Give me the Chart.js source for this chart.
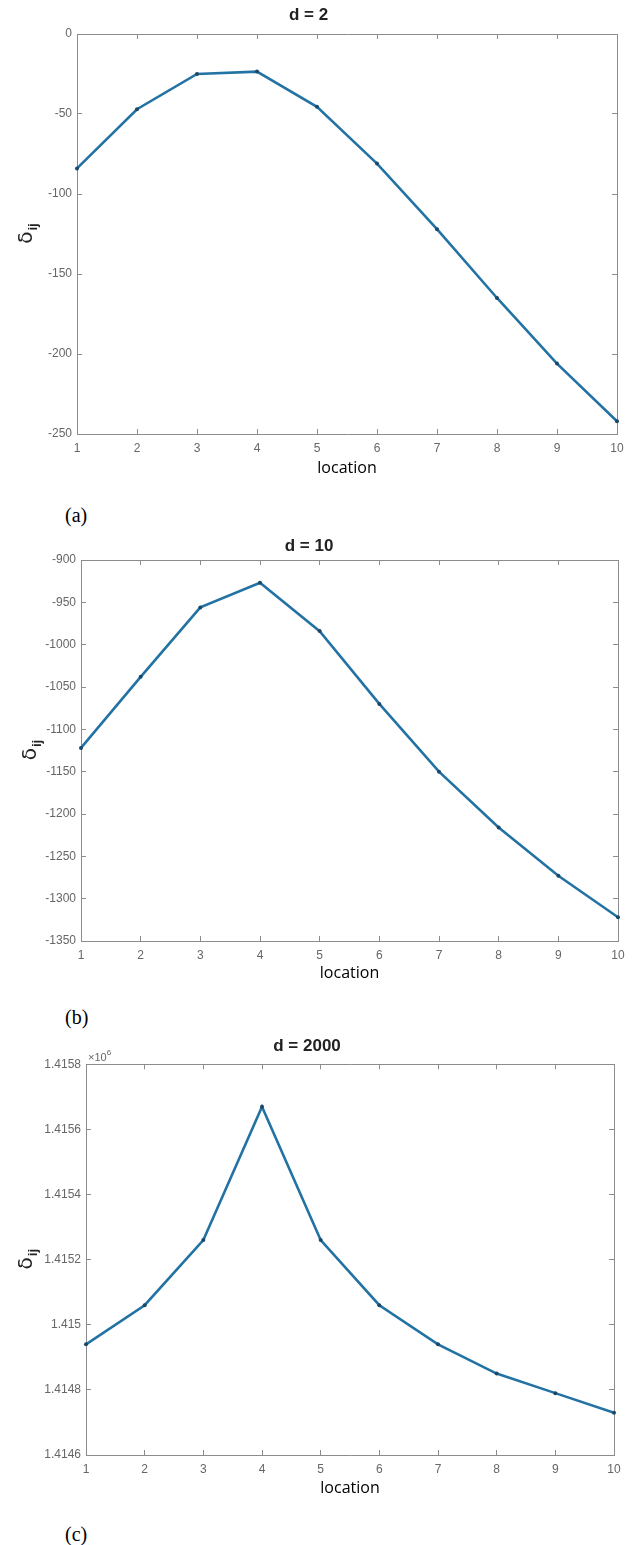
<!DOCTYPE html>
<html>
<head>
<meta charset="utf-8">
<script src="https://cdn.jsdelivr.net/npm/chart.js@4"></script>
<style>
  body { margin: 0; background: #fff; width: 639px; height: 1545px; position: relative; overflow: hidden; }
  .panel { position: absolute; left: 0; width: 639px; }
  .cap { position: absolute; left: 65px; font: 20px "Liberation Serif", serif; color: #000; line-height: 20px; }
</style>
</head>
<body>
<div class="panel" style="top:0px;height:500px"><canvas id="ca" width="639" height="500"></canvas></div>
<div class="cap" style="top:505px">(a)</div>
<div class="panel" style="top:530px;height:470px"><canvas id="cb" width="639" height="470"></canvas></div>
<div class="cap" style="top:1007px">(b)</div>
<div class="panel" style="top:1030px;height:480px"><canvas id="cc" width="639" height="480"></canvas></div>
<div class="cap" style="top:1524px">(c)</div>
<script>
const locations = [1, 2, 3, 4, 5, 6, 7, 8, 9, 10];

// d = 2
const deltaD2 = [-84, -47, -25, -23.5, -45.5, -81, -122, -165, -206, -242];
const yTicksD2 = [-250, -200, -150, -100, -50, 0];

// d = 10
const deltaD10 = [-1122, -1038, -956, -927, -984, -1070, -1150, -1216, -1273, -1322];
const yTicksD10 = [-1350, -1300, -1250, -1200, -1150, -1100, -1050, -1000, -950, -900];

// d = 2000, in units of 10^6
const deltaD2000 = [1.41494, 1.41506, 1.41526, 1.41567, 1.41526, 1.41506, 1.41494, 1.41485, 1.41479, 1.41473];
const yTicksD2000 = [1.4146, 1.4148, 1.415, 1.4152, 1.4154, 1.4156, 1.4158];

const axisGray = "#8c8c8c";
const tickFont = { family: "'Liberation Sans', Arial", size: 12 };

// y label: delta with subscript ij, drawn rotated
const deltaLabel = {
  id: "deltaLabel",
  afterDraw(chart, args, opts) {
    const { ctx, chartArea } = chart;
    const cy = (chartArea.top + chartArea.bottom) / 2;
    ctx.save();
    ctx.translate(opts.x, cy);
    ctx.rotate(-Math.PI / 2);
    ctx.fillStyle = "#222";
    ctx.textBaseline = "alphabetic";
    ctx.font = "20px 'DejaVu Sans'";
    const w1 = ctx.measureText("δ").width;
    ctx.font = "bold 13px 'Liberation Sans'";
    const w2 = ctx.measureText("ij").width;
    const x0 = -(w1 + w2) / 2;
    ctx.font = "20px 'DejaVu Sans'";
    ctx.fillText("δ", x0, 6);
    ctx.font = "bold 13px 'Liberation Sans'";
    ctx.fillText("ij", x0 + w1 + 1, 11);
    ctx.restore();
    if (opts.exp) {
      ctx.save();
      ctx.fillStyle = "#666";
      ctx.font = "11px 'Liberation Sans'";
      ctx.textBaseline = "alphabetic";
      ctx.fillText("×10", chartArea.left + 2, chartArea.top - 3);
      const w = ctx.measureText("×10").width;
      ctx.font = "8px 'Liberation Sans'";
      ctx.fillText(opts.exp, chartArea.left + 2 + w, chartArea.top - 9);
      ctx.restore();
    }
  }
};

function makePanel(id, title, values, yTicks, g) {
  const setTicks = s => { s.ticks = yTicks.map(v => ({ value: v })); };
  const grid = { drawOnChartArea: false, drawTicks: true, tickLength: -5, color: axisGray, tickColor: axisGray };
  const border = { display: true, color: axisGray, width: 1 };
  const yMin = yTicks[0], yMax = yTicks[yTicks.length - 1];
  return new Chart(document.getElementById(id), {
    type: "line",
    data: {
      labels: locations,
      datasets: [{
        data: values,
        borderColor: "#2372a4",
        borderWidth: 2.6,
        pointRadius: 2,
        pointBackgroundColor: "#1b4868",
        pointBorderWidth: 0,
        tension: 0
      }]
    },
    options: {
      responsive: false,
      animation: false,
      layout: { padding: { left: 0, right: g.right, top: 0, bottom: 0 } },
      plugins: {
        legend: { display: false },
        tooltip: { enabled: false },
        title: {
          display: true,
          text: title,
          color: "#222",
          font: { family: "'Liberation Sans', Arial", size: 17, weight: "bold", lineHeight: 1.2 },
          padding: { top: g.titleTop, bottom: g.titleBottom }
        },
        deltaLabel: { x: g.labelX, exp: g.exp }
      },
      scales: {
        x: {
          type: "category",
          position: "bottom",
          offset: false,
          grid, border,
          ticks: { color: "#666", font: tickFont, padding: 12, maxRotation: 0, autoSkip: false },
          title: {
            display: true,
            text: "location",
            color: "#000",
            font: { family: "'Open Sans'", size: 16, lineHeight: 1.2 },
            padding: { top: 0, bottom: g.locPad }
          },
          afterFit: s => { s.height = g.xHeight; }
        },
        x2: {
          type: "category",
          position: "top",
          offset: false,
          grid, border,
          ticks: { display: false },
          afterFit: s => { s.height = 0; }
        },
        y: {
          type: "linear",
          position: "left",
          min: yMin, max: yMax,
          grid, border,
          ticks: {
            color: "#666", font: tickFont, padding: 10,
            callback: v => String(Number(v.toFixed(4)))
          },
          afterBuildTicks: setTicks,
          afterFit: s => { s.width = g.left; }
        },
        y2: {
          type: "linear",
          position: "right",
          min: yMin, max: yMax,
          grid, border,
          ticks: { display: false },
          afterBuildTicks: setTicks,
          afterFit: s => { s.width = 0; }
        }
      }
    },
    plugins: [deltaLabel]
  });
}

makePanel("ca", "d = 2", deltaD2, yTicksD2,
  { left: 77, right: 22, titleTop: 4.8, titleBottom: 8.8, xHeight: 66, locPad: 22.4, labelX: 26 });
makePanel("cb", "d = 10", deltaD10, yTicksD10,
  { left: 81, right: 21, titleTop: 5.8, titleBottom: 3.8, xHeight: 59, locPad: 17.4, labelX: 30 });
makePanel("cc", "d = 2000", deltaD2000, yTicksD2000,
  { left: 86, right: 25, titleTop: 5.8, titleBottom: 8.1, xHeight: 55, locPad: 12.4, labelX: 26, exp: "6" });
</script>
</body>
</html>
